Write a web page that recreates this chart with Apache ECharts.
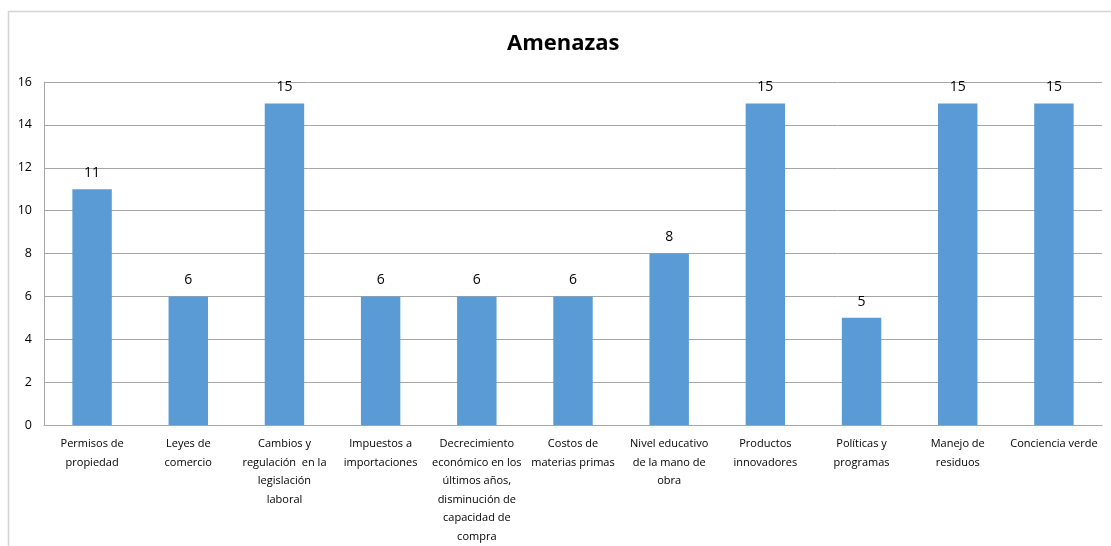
<!DOCTYPE html>
<html>
<head>
<meta charset="utf-8">
<script src="https://cdn.jsdelivr.net/npm/echarts@6/dist/echarts.min.js"></script>
<style>
  html, body { margin: 0; padding: 0; background: #fff; }
  #chart { width: 1111px; height: 546px; }
</style>
</head>
<body>
<div id="chart"></div>
<script>
// Threat factors and how often each was cited
const categories = [
  'Permisos de\npropiedad',
  'Leyes de\ncomercio',
  'Cambios y\nregulación  en la\nlegislación\nlaboral',
  'Impuestos a\nimportaciones',
  'Decrecimiento\neconómico en los\núltimos años,\ndisminución de\ncapacidad de\ncompra',
  'Costos de\nmaterias primas',
  'Nivel educativo\nde la mano de\nobra',
  'Productos\ninnovadores',
  'Políticas y\nprogramas',
  'Manejo de\nresiduos',
  'Conciencia verde'
];
const values = [11, 6, 15, 6, 6, 6, 8, 15, 5, 15, 15];
const yTicks = { min: 0, max: 16, step: 2 };
const chartTitle = 'Amenazas';

const chart = echarts.init(document.getElementById('chart'), null, { renderer: 'canvas' });

chart.setOption({
  animation: false,
  backgroundColor: '#ffffff',
  title: {
    text: chartTitle,
    left: 502,
    top: 28,
    textStyle: {
      fontFamily: 'Open Sans',
      fontWeight: 'bold',
      fontSize: 22,
      color: '#000'
    }
  },
  graphic: [{
    type: 'rect',
    shape: { x: 8.5, y: 11.5, width: 1200, height: 600 },
    style: { fill: 'none', stroke: '#d4d4d4', lineWidth: 1.5 },
    silent: true,
    z: -1
  }],
  grid: { left: 44, right: 9, top: 82, bottom: 121, containLabel: false },
  xAxis: {
    type: 'category',
    data: categories,
    axisTick: { show: false },
    axisLine: { show: true, lineStyle: { color: '#a6a6a6', width: 1 } },
    axisLabel: {
      interval: 0,
      margin: 10,
      fontFamily: 'Open Sans',
      fontSize: 11,
      lineHeight: 18.5,
      color: '#000',
      align: 'center'
    }
  },
  yAxis: {
    type: 'value',
    min: yTicks.min,
    max: yTicks.max,
    interval: yTicks.step,
    axisLine: { show: true, lineStyle: { color: '#a6a6a6', width: 1 } },
    axisTick: { show: false },
    splitLine: { show: true, lineStyle: { color: '#a6a6a6', width: 1 } },
    axisLabel: {
      margin: 12,
      fontFamily: 'Open Sans',
      fontSize: 12.5,
      color: '#000'
    }
  },
  series: [{
    type: 'bar',
    data: values,
    barWidth: '41%',
    itemStyle: { color: '#5b9bd5' },
    label: {
      show: true,
      position: 'top',
      distance: 9,
      fontFamily: 'Open Sans',
      fontSize: 14,
      color: '#000'
    }
  }]
});
</script>
</body>
</html>
